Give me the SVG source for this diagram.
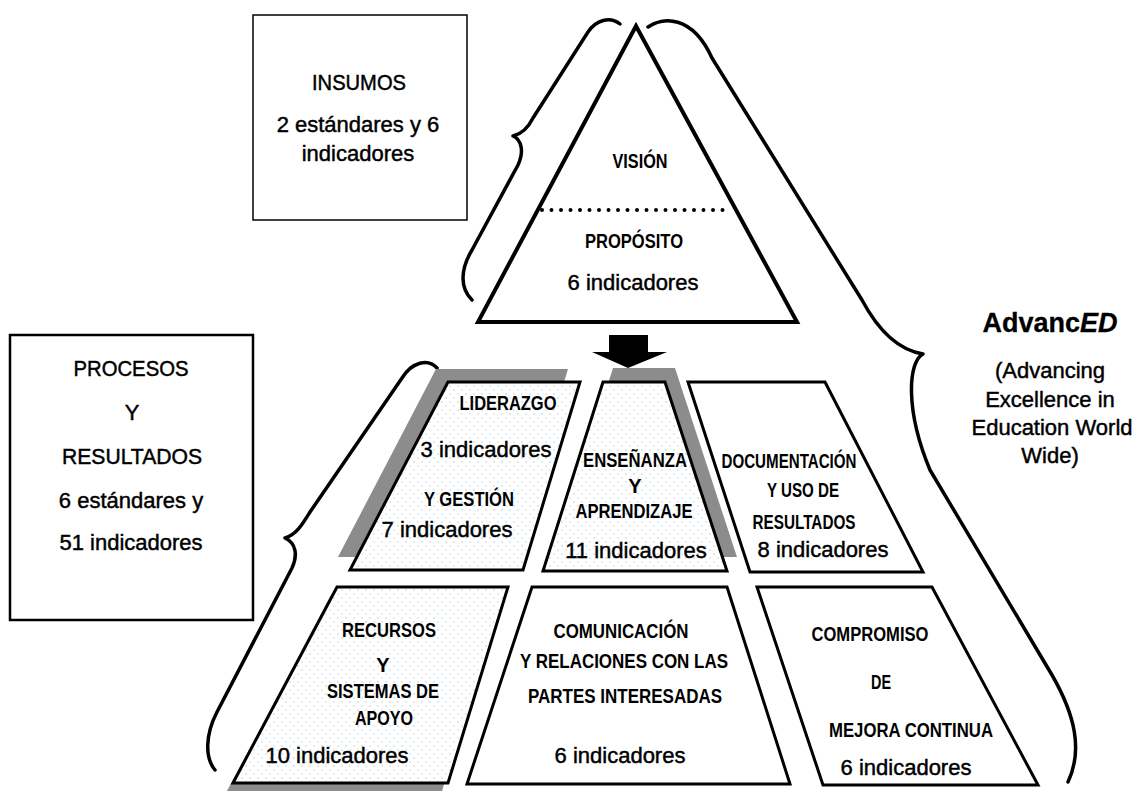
<svg xmlns="http://www.w3.org/2000/svg" width="1137" height="794" viewBox="0 0 1137 794">
<defs>
<pattern id="dots" width="8" height="8" patternUnits="userSpaceOnUse">
<rect width="8" height="8" fill="#ffffff"/>
<circle cx="2" cy="2" r="0.8" fill="#b9d3d6"/>
<circle cx="6" cy="6" r="0.8" fill="#b9d3d6"/>
</pattern>
<style>
.t{font-family:"Liberation Sans",Arial,sans-serif;font-size:22px;fill:#000;stroke:#000;stroke-width:0.45;text-anchor:middle}
.c{font-family:"Liberation Sans",Arial,sans-serif;font-size:20px;font-weight:bold;fill:#000;text-anchor:middle}
.box{fill:#fff;stroke:#000}
.tz{stroke:#000;stroke-width:3;stroke-linejoin:miter}
.sh{fill:#8c8c8c;stroke:none}
.br{fill:none;stroke:#000;stroke-width:3.5;stroke-linecap:round;stroke-linejoin:round}
</style>
</defs>
<rect width="1137" height="794" fill="#fff"/>

<g id="connectors">
<path class="br" d="M 620 24 C 610 16 596 20 588 32 L 533 118 C 528 128 522 134 513 136 C 522 140 524 152 518 165 L 472 250 C 460 270 460 288 472 300"/>
<path class="br" d="M 648 27 C 662 17 692 14 712 58 L 862 300 C 878 330 898 350 923 354 C 908 362 905 410 930 470 L 1052 675 C 1075 715 1083 750 1068 782"/>
<path class="br" d="M 437 368 C 428 358 412 362 402 378 L 310 512 C 302 525 296 535 285 538 C 296 543 298 555 292 568 L 217 712 C 205 735 205 758 215 770"/>
<polygon points="609,335 648,335 648,352 667,352 628,368 592,352 609,352" fill="#000"/>
</g>

<g id="insumos">
<rect class="box" x="253" y="15" width="214" height="205" stroke-width="1.5" stroke="#333"/>
<text class="t" x="359" y="90" textLength="94" lengthAdjust="spacingAndGlyphs">INSUMOS</text>
<text class="t" x="358" y="132">2 estándares y 6</text>
<text class="t" x="358" y="161">indicadores</text>
</g>

<g id="procesos">
<rect class="box" x="10" y="335" width="243" height="285" stroke-width="2.5"/>
<text class="t" x="131" y="376" textLength="115" lengthAdjust="spacingAndGlyphs">PROCESOS</text>
<text class="t" x="132" y="420">Y</text>
<text class="t" x="132" y="464" textLength="140" lengthAdjust="spacingAndGlyphs">RESULTADOS</text>
<text class="t" x="131" y="508">6 estándares y</text>
<text class="t" x="131" y="550">51 indicadores</text>
</g>

<g id="vision">
<polygon points="636,26 797,322 478,322" fill="#fff" stroke="#000" stroke-width="4"/>
<line x1="542" y1="210" x2="732" y2="210" stroke="#000" stroke-width="4" stroke-linecap="round" stroke-dasharray="0 9.5"/>
<text class="c" x="640" y="168" textLength="55" lengthAdjust="spacingAndGlyphs">VISIÓN</text>
<text class="c" x="634" y="248" textLength="98" lengthAdjust="spacingAndGlyphs">PROPÓSITO</text>
<text class="t" x="633" y="290">6 indicadores</text>
</g>

<g id="advanced">
<text class="t" x="1050" y="332" style="font-size:27px;font-weight:bold;stroke-width:0.3">Advanc<tspan font-style="italic">ED</tspan></text>
<text class="t" x="1050" y="378">(Advancing</text>
<text class="t" x="1050" y="407">Excellence in</text>
<text class="t" x="1052" y="435">Education World</text>
<text class="t" x="1050" y="463">Wide)</text>
</g>

<g id="liderazgo">
<polygon class="sh" points="436,369 568,369 511,557 338,557"/>
<polygon class="tz" points="448,382 580,382 523,570 350,570" fill="url(#dots)"/>
<text class="c" x="508" y="410" textLength="97" lengthAdjust="spacingAndGlyphs">LIDERAZGO</text>
<text class="t" x="486" y="457">3 indicadores</text>
<text class="c" x="469" y="506" textLength="90" lengthAdjust="spacingAndGlyphs">Y GESTIÓN</text>
<text class="t" x="447" y="537">7 indicadores</text>
</g>

<g id="ensenanza">
<polygon class="sh" points="613,368 675,368 737,557 553,557"/>
<polygon class="tz" points="603,382 665,382 727,571 543,571" fill="url(#dots)"/>
<text class="c" x="635" y="467" textLength="104" lengthAdjust="spacingAndGlyphs">ENSEÑANZA</text>
<text class="c" x="635" y="493">Y</text>
<text class="c" x="634" y="518" textLength="117" lengthAdjust="spacingAndGlyphs">APRENDIZAJE</text>
<text class="t" x="636" y="558">11 indicadores</text>
</g>

<g id="documentacion">
<polygon class="tz" points="688,382 825,382 923,572 750,572" fill="#fff"/>
<text class="c" x="789" y="468" textLength="135" lengthAdjust="spacingAndGlyphs">DOCUMENTACIÓN</text>
<text class="c" x="803" y="497" textLength="72" lengthAdjust="spacingAndGlyphs">Y USO DE</text>
<text class="c" x="804" y="529" textLength="103" lengthAdjust="spacingAndGlyphs">RESULTADOS</text>
<text class="t" x="823" y="557">8 indicadores</text>
</g>

<g id="recursos">
<polygon class="sh" points="331,595 502,595 442,791 227,791"/>
<polygon class="tz" points="337,587 508,587 448,783 233,783" fill="url(#dots)"/>
<text class="c" x="389" y="637" textLength="94" lengthAdjust="spacingAndGlyphs">RECURSOS</text>
<text class="c" x="383" y="672">Y</text>
<text class="c" x="383" y="698" textLength="112" lengthAdjust="spacingAndGlyphs">SISTEMAS DE</text>
<text class="c" x="384" y="725" textLength="58" lengthAdjust="spacingAndGlyphs">APOYO</text>
<text class="t" x="337" y="763">10 indicadores</text>
</g>

<g id="comunicacion">
<polygon class="tz" points="532,587 727,587 790,784 467,784" fill="#fff"/>
<text class="c" x="621" y="638" textLength="135" lengthAdjust="spacingAndGlyphs">COMUNICACIÓN</text>
<text class="c" x="624" y="668" textLength="208" lengthAdjust="spacingAndGlyphs">Y RELACIONES CON LAS</text>
<text class="c" x="625" y="703" textLength="194" lengthAdjust="spacingAndGlyphs">PARTES INTERESADAS</text>
<text class="t" x="620" y="763">6 indicadores</text>
</g>

<g id="compromiso">
<polygon class="tz" points="757,587 932,587 1038,785 823,785" fill="#fff"/>
<text class="c" x="870" y="641" textLength="117" lengthAdjust="spacingAndGlyphs">COMPROMISO</text>
<text class="c" x="881" y="689" textLength="20" lengthAdjust="spacingAndGlyphs">DE</text>
<text class="c" x="911" y="737" textLength="164" lengthAdjust="spacingAndGlyphs">MEJORA CONTINUA</text>
<text class="t" x="906" y="775">6 indicadores</text>
</g>
</svg>
